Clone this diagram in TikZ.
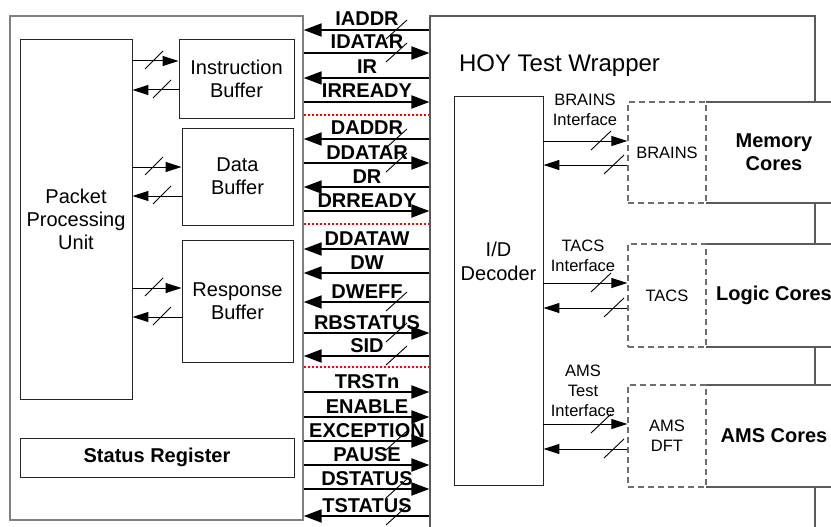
\documentclass[tikz,border=0pt]{standalone}
\usepackage{fontspec}
\setmainfont{Liberation Sans}
\usetikzlibrary{arrows.meta}
\definecolor{outergray}{RGB}{128,128,128}
\definecolor{wrapgray}{RGB}{90,90,90}
\definecolor{dashgray}{RGB}{110,110,110}
\begin{document}
\begin{tikzpicture}[x=1pt,y=-1pt,
  box/.style={draw=black!85, line width=0.9pt, inner sep=0pt, align=center, font=\fontsize{20}{23}\selectfont},
  dbox/.style={draw=dashgray, line width=1.3pt, dash pattern=on 6pt off 4pt, inner sep=0pt, align=center, font=\fontsize{16.5}{20}\selectfont},
  sig/.style={line width=2pt, -{Triangle[length=18pt 0 0,width=13pt 0 0]}},
  thinarrow/.style={line width=1pt, -{Triangle[length=16pt 0 0,width=10pt 0 0]}},
  siglabel/.style={font=\bfseries\fontsize{20}{23}\selectfont, inner sep=0pt},
  slash/.style={line width=0.9pt},
  redsep/.style={red, line width=2pt, dash pattern=on 2.5pt off 1.5pt},
  small/.style={font=\fontsize{16.5}{20}\selectfont, align=center, inner sep=0pt},
  bigbold/.style={font=\bfseries\fontsize{20}{23}\selectfont, align=center, inner sep=0pt}
]
\useasboundingbox (0,0) rectangle (831,527);

% outer boxes
\node[draw=outergray, line width=1.4pt, minimum width=293, minimum height=504, inner sep=0pt] (lb) at (156.5,268) {};
\node[draw=wrapgray, line width=1.2pt, minimum width=385, minimum height=530, inner sep=0pt] (wr) at (622.5,281) {};
\node[font=\fontsize{24}{28}\selectfont, inner sep=0pt] (title) at (559.5,66) {HOY Test Wrapper};

% left side blocks
\node[box, minimum width=112, minimum height=360] (ppu) at (76,219) {Packet\\Processing\\Unit};
\node[box, minimum width=115, minimum height=79] (ib) at (236.5,78.5) {Instruction\\Buffer};
\node[box, minimum width=111, minimum height=97] (db) at (237.5,176.5) {Data\\Buffer};
\node[box, minimum width=111, minimum height=122] (rb) at (237.5,301) {Response\\Buffer};
\node[box, minimum width=274, minimum height=39, font=\bfseries\fontsize{20}{23}\selectfont] (sr) at (157,457.5) {Status Register};

% PPU <-> buffers
\foreach \bx/\ya/\yb in {ib/61/90, db/167/196, rb/288/317}{
  \coordinate (a\bx) at (154,\ya);
  \coordinate (b\bx) at (162,\yb);
  \draw[thinarrow] (ppu.east |- a\bx) -- (\bx.west |- a\bx);
  \draw[thinarrow] (\bx.west |- b\bx) -- (ppu.east |- b\bx);
  \draw[slash] ([shift={(-9,8)}]a\bx) -- ([shift={(9,-10)}]a\bx);
  \draw[slash] ([shift={(-9,8)}]b\bx) -- ([shift={(9,-10)}]b\bx);
}

% decoder
\node[box, minimum width=89, minimum height=389] (dec) at (498.5,290.5) {};
\node[font=\fontsize{20}{24}\selectfont, align=center, inner sep=0pt] (dectext) at (498.5,261) {I/D\\Decoder};

% cores (white fill hides the wrapper edge)
\foreach \bx/\yc/\hh in {mem/152.5/101, logic/295.5/103, amsc/436/102}{
  \fill[white] (706,\yc-\hh/2) rectangle (835,\yc+\hh/2);
  \draw[draw=wrapgray, line width=1.2pt] (706,\yc-\hh/2) -- (835,\yc-\hh/2);
  \draw[draw=wrapgray, line width=1.2pt] (706,\yc+\hh/2) -- (835,\yc+\hh/2);
}

% dashed interface boxes
\node[dbox, fill=white, minimum width=78, minimum height=101] (brains) at (667,152.5) {BRAINS};
\node[dbox, fill=white, minimum width=78, minimum height=103] (tacs) at (667,295.5) {TACS};
\node[dbox, fill=white, minimum width=78, minimum height=102] (ams) at (667,436) {AMS\\DFT};

\node[bigbold] (memtext) at (774,152) {Memory\\Cores};
\node[bigbold] (logictext) at (774,295) {Logic Cores};
\node[bigbold] (amstext) at (774,436) {AMS Cores};

% interface labels
\node[small] (bil) at (585,109.5) {BRAINS\\Interface};
\node[small] (til) at (583,255.5) {TACS\\Interface};
\node[small] (ail) at (583,391) {AMS\\Test\\Interface};

% decoder <-> interfaces
\foreach \bx/\ya/\yb in {brains/141/165, tacs/283/308, ams/424/449}{
  \coordinate (a\bx) at (601,\ya);
  \coordinate (b\bx) at (614,\yb);
  \draw[thinarrow] (dec.east |- a\bx) -- (\bx.west |- a\bx);
  \draw[thinarrow] (\bx.west |- b\bx) -- (dec.east |- b\bx);
  \draw[slash] ([shift={(-10,9)}]a\bx) -- ([shift={(10,-10)}]a\bx);
  \draw[slash] ([shift={(-10,9)}]b\bx) -- ([shift={(10,-10)}]b\bx);
}

% red separators
\foreach \yy [count=\i] in {115,224,367}{
  \coordinate (r\i) at (367,\yy);
  \draw[redsep] (lb.east |- r\i) -- (wr.west |- r\i);
}

% signal bus
\foreach \nm/\yy/\dd/\sl in {IADDR/30/L/1, IDATAR/53/R/1, IR/78/L/0, IRREADY/102/R/0,
  DADDR/139/L/1, DDATAR/163/R/1, DR/187/L/0, DRREADY/211/R/0,
  DDATAW/249/L/0, DW/273/L/0, DWEFF/302/L/1, RBSTATUS/333/R/1, SID/356/L/1,
  TRSTn/392/R/0, ENABLE/417/R/0, EXCEPTION/441/R/1, PAUSE/465/R/0, DSTATUS/489/R/1, TSTATUS/516/L/1}{
  \coordinate (c\nm) at (367,\yy);
  \if L\dd
    \draw[sig] (wr.west |- c\nm) -- (lb.east |- c\nm);
  \else
    \draw[sig] (lb.east |- c\nm) -- (wr.west |- c\nm);
  \fi
  \node[siglabel, anchor=base] (l\nm) at ([yshift=4pt]c\nm) {\nm};
  \ifnum\sl=1
    \draw[slash] ([shift={(19,9)}]c\nm) -- ([shift={(40,-10)}]c\nm);
  \fi
}
\end{tikzpicture}
\end{document}
